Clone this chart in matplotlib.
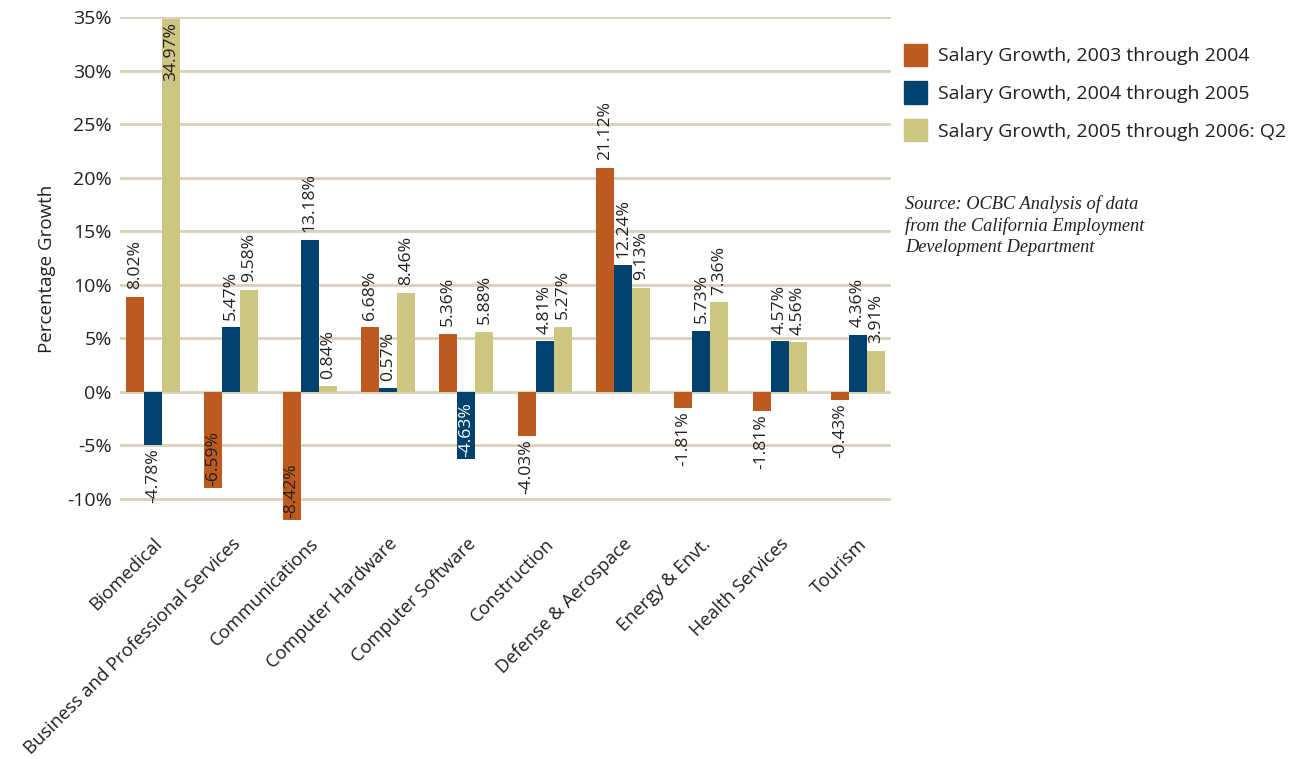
import numpy as np
import matplotlib
matplotlib.use('Agg')
import matplotlib.pyplot as plt
from matplotlib.patches import Patch

# --- data ---
categories = ['Biomedical', 'Business and Professional Services', 'Communications',
              'Computer Hardware', 'Computer Software', 'Construction',
              'Defense & Aerospace', 'Energy & Envt.', 'Health Services', 'Tourism']

series_names = ['Salary Growth, 2003 through 2004',
                'Salary Growth, 2004 through 2005',
                'Salary Growth, 2005 through 2006: Q2']

# bar heights as drawn (percent)
growth_03_04 = [8.85, -9.0, -12.0, 6.0, 5.4, -4.2, 20.9, -1.55, -1.8, -0.8]
growth_04_05 = [-5.0, 6.0, 14.2, 0.3, -6.3, 4.7, 11.8, 5.7, 4.7, 5.3]
growth_05_06 = [34.8, 9.5, 0.5, 9.25, 5.6, 6.05, 9.7, 8.35, 4.6, 3.8]

# printed value labels
labels_03_04 = ['8.02%', '-6.59%', '-8.42%', '6.68%', '5.36%', '-4.03%', '21.12%', '-1.81%', '-1.81%', '-0.43%']
labels_04_05 = ['-4.78%', '5.47%', '13.18%', '0.57%', '-4.63%', '4.81%', '12.24%', '5.73%', '4.57%', '4.36%']
labels_05_06 = ['34.97%', '9.58%', '0.84%', '8.46%', '5.88%', '5.27%', '9.13%', '7.36%', '4.56%', '3.91%']

colors = ['#bd5a1f', '#00416e', '#cfc582']
grid_color = '#d9d0b8'
text_color = '#231f20'

plt.rcParams['font.family'] = ['Open Sans', 'DejaVu Sans']

fig = plt.figure(figsize=(13.03, 7.59), dpi=100)
ax = fig.add_axes([120 / 1303, 1 - 521 / 759, 771 / 1303, (521 - 17) / 759])

x = np.arange(len(categories))
width = 0.23
YMIN, YMAX = -12.1, 35
LABEL_FS = 12.6

all_vals = [growth_03_04, growth_04_05, growth_05_06]
all_labels = [labels_03_04, labels_04_05, labels_05_06]

for i, (vals, labs) in enumerate(zip(all_vals, all_labels)):
    xpos = x + (i - 1) * width
    ax.bar(xpos, vals, width, color=colors[i], zorder=2)
    for xp, v, lab in zip(xpos, vals, labs):
        est_len = 1.0 * len(lab)  # rough label length in data units
        if v >= 0:
            if v + 0.7 + est_len > YMAX:
                ax.text(xp, v - 0.3, lab, rotation=90, ha='center', va='top',
                        fontsize=LABEL_FS, color=text_color, zorder=3)
            else:
                ax.text(xp, v + 0.7, lab, rotation=90, ha='center', va='bottom',
                        fontsize=LABEL_FS, color=text_color, zorder=3)
        else:
            if v - 0.3 - est_len < YMIN:
                tc = 'white' if i == 1 else text_color
                ax.text(xp, v + 0.2, lab, rotation=90, ha='center', va='bottom',
                        fontsize=LABEL_FS, color=tc, zorder=3)
            else:
                ax.text(xp, v - 0.3, lab, rotation=90, ha='center', va='top',
                        fontsize=LABEL_FS, color=text_color, zorder=3)

ax.set_xlim(-0.42, len(categories) - 1 + 0.42)
ax.set_ylim(YMIN, YMAX)
ax.set_yticks(np.arange(-10, 36, 5))
ax.set_yticklabels([f'{t}%' for t in range(-10, 36, 5)])
ax.yaxis.grid(True, color=grid_color, linewidth=2, zorder=0)
ax.set_axisbelow(True)
for s in ax.spines.values():
    s.set_visible(False)
ax.tick_params(axis='y', length=0, labelsize=14, colors=text_color, pad=6)

ax.set_xticks(x)
ax.set_xticklabels(categories, rotation=45, ha='right', rotation_mode='anchor')
ax.tick_params(axis='x', length=0, labelsize=13.2, colors=text_color, pad=10)

ax.set_ylabel('Percentage Growth', fontsize=13.5, color=text_color, labelpad=8)

handles = [Patch(color=c) for c in colors]
leg = fig.legend(handles, series_names, loc='upper left',
                 bbox_to_anchor=(896 / 1303, 1 - 36 / 759), frameon=False,
                 fontsize=14, handlelength=1.2, handleheight=1.4,
                 handletextpad=0.55, labelspacing=0.78, borderaxespad=0)
for t in leg.get_texts():
    t.set_color(text_color)

fig.text(905 / 1303, 1 - 195 / 759,
         'Source: OCBC Analysis of data\nfrom the California Employment\nDevelopment Department',
         fontsize=13.2, family='Liberation Serif', style='italic', color=text_color,
         va='top', ha='left', linespacing=1.3)

fig.savefig('out.png', dpi=100)
